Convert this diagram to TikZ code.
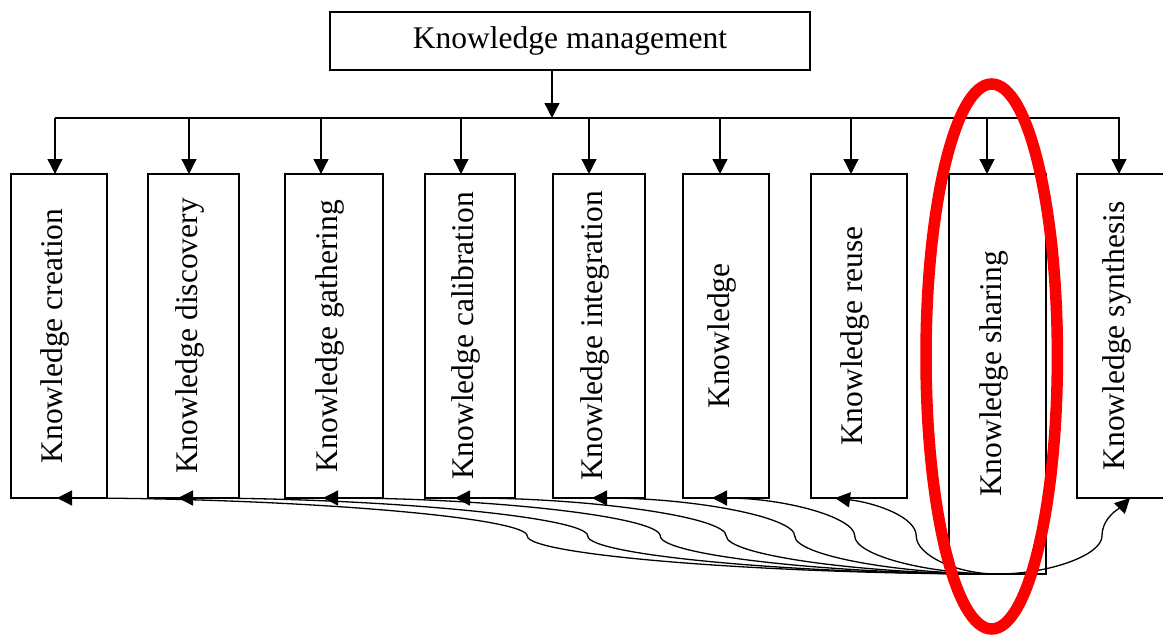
\documentclass[tikz,border=0pt]{standalone}
\usepackage{fontspec}
\setmainfont{Liberation Serif}
\usepackage{graphicx}
\usetikzlibrary{arrows.meta,calc}
\newcommand\kfont{\fontsize{31.5}{36}\selectfont}
\newcommand\vlabel[1]{\hspace*{-8pt}\rotatebox{90}{#1}}
\begin{document}
\begin{tikzpicture}[x=1pt,y=-1pt,
  kbox/.style={draw, line width=1.3pt, inner sep=0pt, outer sep=0pt,
    minimum width=#1, minimum height=324pt, font=\kfont},
  link/.style={line width=1.3pt, -{Triangle[length=15pt,width=15pt]}},
  bus/.style={line width=1.3pt},
  mark ring/.style={draw=red, line width=11.5pt}]
\useasboundingbox (0,0) rectangle (1163,637);
\clip (0,0) rectangle (1163,637);

% root of the hierarchy
\node[draw, line width=1.3pt, inner sep=0pt, outer sep=0pt,
  minimum width=480pt, minimum height=58pt, font=\kfont] (km) at (570,41)
  {Knowledge management};

% the nine activities
\node[kbox=96pt]  (b1) at (59,336)    {\vlabel{Knowledge creation}};
\node[kbox=91pt]  (b2) at (193.5,336) {\vlabel{Knowledge discovery}};
\node[kbox=98pt]  (b3) at (334,336)   {\vlabel{Knowledge gathering}};
\node[kbox=90pt]  (b4) at (470,336)   {\vlabel{Knowledge calibration}};
\node[kbox=92pt]  (b5) at (599,336)   {\vlabel{Knowledge integration}};
\node[kbox=86pt]  (b6) at (726,336)   {\vlabel{Knowledge}};
\node[kbox=96pt]  (b7) at (859,336)   {\vlabel{Knowledge reuse}};
\node[kbox=97pt, minimum height=400pt] (b8) at (997.5,374) {\vlabel{Knowledge sharing}};
\node[kbox=88pt]  (b9) at (1121,336)  {\vlabel{Knowledge synthesis}};

% distribution bus
\coordinate (jn) at (552,118);
\coordinate (busL) at (55,118);
\coordinate (busR) at (1120,118);
\draw[link] (km.south -| jn) -- (jn);
\draw[bus] (busL) -- (busR);
\foreach \i/\x in {1/55,2/189,3/321,4/461,5/589,6/720,7/851,8/987,9/1119}{
  \coordinate (d\i) at (\x,118);
  \draw[link] (d\i) -- (b\i.north -| d\i);
}

% arrival points under the boxes
\coordinate (t1) at ($(b1.south)+(-2,0)$);
\coordinate (t2) at ($(b2.south)+(-15.5,0)$);
\coordinate (t3) at ($(b3.south)+(-11,0)$);
\coordinate (t4) at ($(b4.south)+(-15,0)$);
\coordinate (t5) at ($(b5.south)+(-7,0)$);
\coordinate (t6) at ($(b6.south)+(-14,0)$);
\coordinate (t7) at ($(b7.south)+(-24,0)$);
\coordinate (t9) at ($(b9.south)+(9,0)$);

% sharing feeds every other activity
\foreach \i/\q in {1/235.1,2/204.9,3/168.6,4/135.6,5/101.4,6/71.4}{
  \draw[link] (b8.south) .. controls +(-\q,0) and +(0,19) ..
    ($(b8.south)!.5!(t\i)$) .. controls +(0,-19) and +(\q,0) .. (t\i);
}
\draw[link] (b8.south) .. controls +(-41.6,0) and +(0,19) ..
  ($(b8.south)!.5!(t7)$) .. controls +(0,-19) and +(41,5) .. (t7);
\coordinate (m9) at (1102,536);
\draw[link] (b8.south) .. controls +(52,0) and +(0,19) ..
  (m9) .. controls +(0,-19) and +(-9,9) .. (t9);

% highlight ring
\draw[mark ring] (991.7,356.5) ellipse [x radius=65.7pt, y radius=272.5pt];
\end{tikzpicture}
\end{document}
